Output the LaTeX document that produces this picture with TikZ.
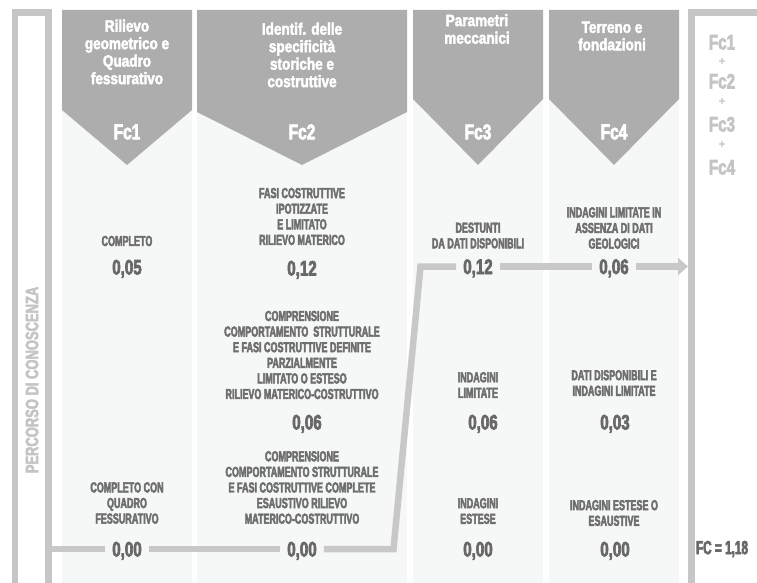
\documentclass[tikz,border=0pt]{standalone}
\usepackage{fontspec}
\usetikzlibrary{arrows.meta}
\setmainfont{Liberation Sans}
\newfontfamily\bodycond[FakeStretch=0.62,FakeBold=3]{Liberation Sans}
\newfontfamily\numcond[FakeStretch=0.72,FakeBold=3]{Liberation Sans}
\newfontfamily\headcond[FakeStretch=0.82,FakeBold=2.5]{Liberation Sans}
\definecolor{framegray}{HTML}{C6C6C6}
\definecolor{headgray}{HTML}{ADADAD}
\definecolor{colbg}{HTML}{F6F8F8}
\definecolor{txtgray}{HTML}{6E6E6E}
\definecolor{valgray}{HTML}{686868}
\definecolor{sumgray}{HTML}{C4C4C4}
\definecolor{trackgray}{HTML}{C8C8C8}
\begin{document}
\begin{tikzpicture}[x=1pt,y=-1pt,
    txt/.style={align=center,text=txtgray,inner sep=0pt,font={\bodycond\bfseries\fontsize{14.5}{15.6}\selectfont}},
    val/.style={text=valgray,inner xsep=7pt,inner ysep=0pt,text height=15pt,text depth=0pt,font={\numcond\bfseries\fontsize{21}{21}\selectfont}},
    head/.style={align=center,text=white,inner sep=0pt,font={\headcond\bfseries\fontsize{16.5}{17.5}\selectfont}},
    fclab/.style={text=white,inner sep=0pt,font={\numcond\bfseries\fontsize{21.5}{21.5}\selectfont}},
    sumlab/.style={text=sumgray,inner sep=0pt,text height=15pt,text depth=0pt,font={\numcond\bfseries\fontsize{21}{21}\selectfont}},
    plus/.style={text=sumgray,inner sep=0pt,text height=7pt,text depth=0pt,font={\bfseries\fontsize{12}{12}\selectfont}},
    frame/.style={draw=framegray,line width=6.5pt,line join=miter},
    track/.style={draw=trackgray,line width=6.5pt,line join=miter}]
    \useasboundingbox (0,0) rectangle (757,583);

    \fill [colbg] (62,10) rectangle (192,583);
    \fill [colbg] (197,10) rectangle (407,583);
    \fill [colbg] (413,10) rectangle (543,583);
    \fill [colbg] (549,10) rectangle (679,583);

    \fill [headgray] (62,10) -- (192,10) -- (192,110) -- (127,165) -- (62,110) -- cycle;
    \fill [headgray] (197,10) -- (407,10) -- (407,112) -- (302,165) -- (197,112) -- cycle;
    \fill [headgray] (413,10) -- (543,10) -- (543,99) -- (478,165) -- (413,99) -- cycle;
    \fill [headgray] (549,10) -- (679,10) -- (679,99) -- (614,165) -- (549,99) -- cycle;

    \draw [frame] (15,583) -- (15,12.5) -- (48.5,12.5) -- (48.5,583);
    \draw [frame] (691.5,583) -- (691.5,12.5) -- (757,12.5);

    \draw (32,380) node (percorso) [rotate=90,text=sumgray,font={\numcond\bfseries\fontsize{18}{18}\selectfont}] {PERCORSO DI CONOSCENZA};

    \draw (127,52) node (headOne) [head] {Rilievo\\geometrico e\\Quadro\\fessurativo};
    \draw (302,55) node (headTwo) [head] {Identif. delle\\specificità\\storiche e\\costruttive};
    \draw (477,29) node (headThree) [head] {Parametri\\meccanici};
    \draw (612,36) node (headFour) [head] {Terreno e\\fondazioni};

    \draw (127,132) node (fcOne) [fclab] {Fc1};
    \draw (302,132) node (fcTwo) [fclab] {Fc2};
    \draw (478,132) node (fcThree) [fclab] {Fc3};
    \draw (614,132) node (fcFour) [fclab] {Fc4};

    \draw (127,241) node (c1topTxt) [txt] {COMPLETO};
    \draw (127,267) node (c1top) [val] {0,05};
    \draw (127,503) node (c1lowTxt) [txt] {COMPLETO CON\\QUADRO\\FESSURATIVO};
    \draw (127,549) node (c1low) [val] {0,00};

    \draw (302,216.5) node (c2topTxt) [txt] {FASI COSTRUTTIVE\\IPOTIZZATE\\E LIMITATO\\RILIEVO MATERICO};
    \draw (302,268) node (c2top) [val] {0,12};
    \draw (302,355) node (c2midTxt) [txt] {COMPRENSIONE\\COMPORTAMENTO\ \ STRUTTURALE\\E FASI COSTRUTTIVE DEFINITE\\PARZIALMENTE\\LIMITATO O ESTESO\\RILIEVO MATERICO-COSTRUTTIVO};
    \draw (307,422) node (c2mid) [val] {0,06};
    \draw (302,487.5) node (c2lowTxt) [txt] {COMPRENSIONE\\COMPORTAMENTO STRUTTURALE\\E FASI COSTRUTTIVE COMPLETE\\ESAUSTIVO RILIEVO\\MATERICO-COSTRUTTIVO};
    \draw (302,549) node (c2low) [val] {0,00};

    \draw (478,235.5) node (c3topTxt) [txt] {DESTUNTI\\DA DATI DISPONIBILI};
    \draw (478,266.5) node (c3top) [val] {0,12};
    \draw (478,385) node (c3midTxt) [txt] {INDAGINI\\LIMITATE};
    \draw (483,422) node (c3mid) [val] {0,06};
    \draw (478,511) node (c3lowTxt) [txt] {INDAGINI\\ESTESE};
    \draw (478,549) node (c3low) [val] {0,00};

    \draw (614,228) node (c4topTxt) [txt] {INDAGINI LIMITATE IN\\ASSENZA DI DATI\\GEOLOGICI};
    \draw (614,266.5) node (c4top) [val] {0,06};
    \draw (614,383) node (c4midTxt) [txt] {DATI DISPONIBILI E\\INDAGINI LIMITATE};
    \draw (615,422) node (c4mid) [val] {0,03};
    \draw (614,513) node (c4lowTxt) [txt] {INDAGINI ESTESE O\\ESAUSTIVE};
    \draw (615,549) node (c4low) [val] {0,00};

    \draw (722,42) node (sumOne) [sumlab] {Fc1};
    \draw (722,62) node (plusOne) [plus] {+};
    \draw (722,81) node (sumTwo) [sumlab] {Fc2};
    \draw (722,102) node (plusTwo) [plus] {+};
    \draw (722,124) node (sumThree) [sumlab] {Fc3};
    \draw (722,145) node (plusThree) [plus] {+};
    \draw (722,167) node (sumFour) [sumlab] {Fc4};
    \draw (722,549) node (fcTotal) [txt,text=valgray,font={\bodycond\bfseries\fontsize{19}{19}\selectfont}] {FC = 1,18};

    \coordinate (trackStart) at (48.5,549);
    \coordinate (bendLow) at (393.5,549);
    \coordinate (bendHigh) at (420.5,266.5);
    \coordinate (trackEnd) at (688,266.5);

    \draw [track] (trackStart) -- (c1low.west);
    \draw [track] (c1low.east) -- (c2low.west);
    \draw [track] (c2low.east) -- (bendLow) -- (bendHigh) -- (c3top.west);
    \draw [track] (c3top.east) -- (c4top.west);
    \draw [track,-{Triangle[length=10pt,width=17pt]}] (c4top.east) -- (trackEnd);
\end{tikzpicture}
\end{document}
